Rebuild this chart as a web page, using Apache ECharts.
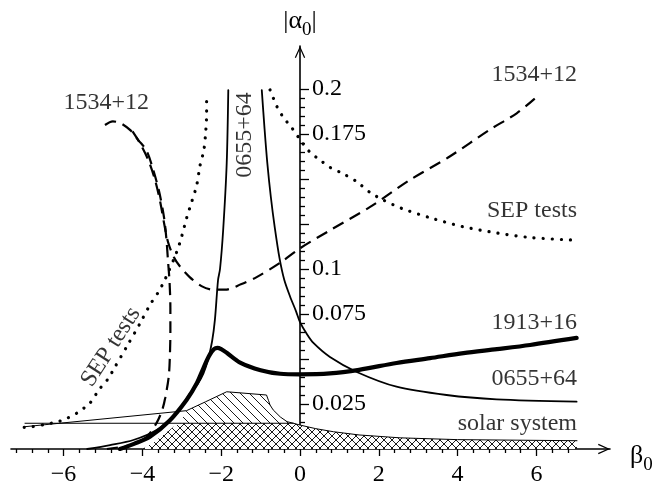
<!DOCTYPE html>
<html><head><meta charset="utf-8">
<script src="https://cdn.jsdelivr.net/npm/echarts@6/dist/echarts.min.js"></script>
<style>html,body{margin:0;padding:0;background:#fff}#c{width:658px;height:482px}</style>
</head><body><div id="c"></div>
<script>
// ---------- tick values ----------
const xMajorTicks = [-6, -4, -2, 0, 2, 4, 6];
const xMinorTicks = [-7.2, -6.8, -6.4, -5.6, -5.2, -4.8, -4.4, -3.6, -3.2, -2.8, -2.4, -1.6, -1.2, -0.8, -0.4,
  0.4, 0.8, 1.2, 1.6, 2.4, 2.8, 3.2, 3.6, 4.4, 4.8, 5.2, 5.6, 6.4, 6.8];
const yMajorTicks = [0.025, 0.05, 0.075, 0.1, 0.125, 0.15, 0.175, 0.2];
const yLabelTicks = [0.025, 0.075, 0.1, 0.175, 0.2];
const yMinorTicks = [0.005, 0.01, 0.015, 0.02, 0.03, 0.035, 0.04, 0.045, 0.055, 0.06, 0.065, 0.07,
  0.08, 0.085, 0.09, 0.095, 0.105, 0.11, 0.115, 0.12, 0.13, 0.135, 0.14, 0.145, 0.155, 0.16, 0.165, 0.17,
  0.18, 0.185, 0.19, 0.195];

// ---------- curves: [beta0, |alpha0|] ----------
const sepLeft = [[-7.0,0.0120],[-6.8,0.0124],[-6.5,0.0135],[-6.3,0.0144],[-6.09,0.0155],[-5.89,0.0173],
  [-5.66,0.0200],[-5.33,0.0256],[-5.1,0.0330],[-4.87,0.0390],[-4.74,0.0439],[-4.4,0.0568],[-4.06,0.0698],
  [-3.81,0.0800],[-3.6,0.0870],[-3.43,0.0940],[-3.13,0.1094],[-3.0,0.1183],[-2.87,0.1289],[-2.75,0.1372],
  [-2.62,0.1467],[-2.54,0.1572],[-2.44,0.1661],[-2.39,0.1772],[-2.37,0.1867],[-2.37,0.1970]];
const sepRight = [[-0.76,0.1995],[-0.59,0.1905],[-0.43,0.1845],[-0.21,0.1785],[0.08,0.1695],[0.25,0.1650],
  [0.51,0.1605],[0.76,0.1565],[1.09,0.1530],[1.44,0.1485],[1.78,0.1425],[2.1,0.1385],[2.6,0.1335],
  [3.3,0.1285],[4.14,0.1235],[5.0,0.1200],[5.84,0.1175],[7.0,0.1160]];
const psr1534A = [[-4.95,0.1800],[-4.75,0.1820],[-4.55,0.1810],[-4.3,0.1770],[-4.1,0.1715],[-3.9,0.1660],
  [-3.73,0.1555],[-3.57,0.1425],[-3.45,0.1285],[-3.39,0.1165],[-3.35,0.1045],[-3.31,0.0925],[-3.29,0.0785],
  [-3.29,0.0655],[-3.3,0.0535],[-3.33,0.0405],[-3.42,0.0285],[-3.5,0.0215],[-3.64,0.0145],[-3.9,0.0065],
  [-4.24,0.0025],[-4.9,0.0000]];
const psr1534B = [[-4.25,0.1765],[-4.05,0.1695],[-3.85,0.1605],[-3.68,0.1495],[-3.55,0.1375],[-3.45,0.1255],
  [-3.35,0.1150],[-3.2,0.1065],[-3.05,0.1015],[-2.8,0.0955],[-2.5,0.0905],[-2.2,0.0885],[-1.9,0.0885],
  [-1.5,0.0915],[-1.1,0.0955],[-0.5,0.1035],[0,0.1115],[0.76,0.1215],[1.78,0.1345],[2.79,0.1495],
  [3.8,0.1625],[4.82,0.1775],[5.5,0.1865],[6.0,0.1955]];
const psr0655Left = [[-5.4,0.0],[-4.82,0.0022],[-4.23,0.0050],[-3.64,0.0106],[-3.13,0.0198],[-2.79,0.0310],
  [-2.6,0.0360],[-2.45,0.0420],[-2.33,0.0500],[-2.23,0.0600],[-2.16,0.0717],[-2.08,0.0939],[-2.03,0.1000],
  [-1.95,0.1217],[-1.86,0.1589],[-1.82,0.1994]];
const psr0655Right = [[-0.97,0.1994],[-0.9,0.1780],[-0.83,0.1590],[-0.74,0.1400],[-0.64,0.1230],
  [-0.52,0.1060],[-0.40,0.0940],[-0.25,0.0846],[-0.1,0.0765],[0,0.0705],[0.17,0.0640],[0.34,0.0589],
  [0.76,0.0511],[1.44,0.0428],[2.45,0.0346],[3.72,0.0300],[4.99,0.0276],[7.02,0.0263]];
const psr1913 = [[-4.57,0.0],[-4.2,0.0030],[-3.81,0.0068],[-3.3,0.0160],[-2.88,0.0272],[-2.62,0.0365],
  [-2.45,0.0450],[-2.3,0.0520],[-2.18,0.0555],[-2.1,0.0562],[-2.0,0.0555],[-1.86,0.0535],[-1.52,0.0480],
  [-1.0,0.0438],[-0.5,0.0418],[0,0.0415],[0.76,0.0420],[1.5,0.0440],[2.45,0.0478],[3.3,0.0505],
  [4.15,0.0533],[5.0,0.0555],[5.84,0.0578],[7.02,0.0617]];
const solarCross = [[-4.0,0.0],[-3.7,0.0040],[-3.4,0.0090],[-3.2,0.0125],[-3.05,0.0143],[-0.17,0.0143],
  [0,0.0133],[0.4,0.0113],[0.85,0.0096],[1.5,0.0078],[2.54,0.0062],[4,0.0052],[7.03,0.0046]];
const solarHatch = [[-3.05,0.0143],[-2.88,0.0213],[-2.4,0.0262],[-1.86,0.0318],[-0.85,0.0300],[-0.8,0.0270],
  [-0.76,0.0244],[-0.68,0.0217],[-0.5,0.0178],[-0.33,0.0152],[-0.17,0.0143]];
const solarEdge = [[-6.98,0.0124],[-2.88,0.0213],[-2.4,0.0262],[-1.86,0.0318],[-0.85,0.0300],[-0.8,0.0270],
  [-0.76,0.0244],[-0.68,0.0217],[-0.5,0.0178],[-0.33,0.0152],[-0.17,0.0143],[0,0.0133],[0.4,0.0113],
  [0.85,0.0096],[1.5,0.0078],[2.54,0.0062],[4,0.0052],[7.03,0.0046]];
const solarFlat = [[-6.98,0.0143],[-0.17,0.0143]];

// ---------- annotation texts (anchored in data coordinates) ----------
const annotations = [
  { text: '1534+12', at: [-4.92, 0.1922], align: 'center', rotate: 0 },
  { text: '1534+12', at: [7.03, 0.2078], align: 'right', rotate: 0 },
  { text: '0655+64', at: [-1.40, 0.1744], align: 'center', rotate: 90 },
  { text: 'SEP tests', at: [7.03, 0.1322], align: 'right', rotate: 0 },
  { text: 'SEP tests', at: [-4.80, 0.0567], align: 'center', rotate: 57 },
  { text: '1913+16', at: [7.03, 0.0700], align: 'right', rotate: 0 },
  { text: '0655+64', at: [7.03, 0.0389], align: 'right', rotate: 0 },
  { text: 'solar system', at: [7.03, 0.0139], align: 'right', rotate: 0 }
];

const FONT = 'Liberation Serif';
const FS = 24;

function hatch(size, cross) {
  const c = document.createElement('canvas');
  c.width = size; c.height = size;
  const g = c.getContext('2d');
  if (cross) { g.fillStyle = '#fff'; g.fillRect(0, 0, size, size); }
  g.strokeStyle = '#000'; g.lineWidth = 0.9;
  g.beginPath();
  g.moveTo(-2, -2); g.lineTo(size + 2, size + 2);
  g.moveTo(-2, size - 2); g.lineTo(2, size + 2);
  g.moveTo(size - 2, -2); g.lineTo(size + 2, 2);
  if (cross) {
    g.moveTo(-2, size + 2); g.lineTo(size + 2, -2);
    g.moveTo(-2, 2); g.lineTo(2, -2);
    g.moveTo(size - 2, size + 2); g.lineTo(size + 2, size - 2);
  }
  g.stroke();
  return c;
}

const chevron = 'path://M5,0 L10,11 L8.9,11.5 L5,2.7 L1.1,11.5 L0,11 Z';
const X_MIN = -7.335, X_MAX = 7.868, Y_MAX = 0.2239;
const GRID = { left: 11, right: 48, top: 46, bottom: 33 };
const CHART_W = 658;
// place the y axis (with its labels) on beta0 = 0
const yOffset = -(CHART_W - GRID.left - GRID.right) * (0 - X_MIN) / (X_MAX - X_MIN);

const chart = echarts.init(document.getElementById('c'), null, { renderer: 'canvas' });

function line(data, width, type, extra) {
  return Object.assign({
    type: 'line', data: data, showSymbol: false, symbol: 'none', smooth: 0.3,
    xAxisIndex: 0, yAxisIndex: 0, z: 3, silent: true,
    lineStyle: { color: '#000', width: width, type: type || 'solid', cap: 'round', join: 'round' }
  }, extra || {});
}

const minus = v => (v < 0 ? '\u2212' + Math.abs(v) : String(v));

chart.setOption({
  animation: false,
  backgroundColor: '#fff',
  textStyle: { fontFamily: FONT },
  grid: Object.assign({ containLabel: false, outerBoundsMode: 'none' }, GRID),
  xAxis: [{
    type: 'value', min: X_MIN, max: X_MAX, position: 'bottom',
    splitLine: { show: false },
    axisLine: { onZero: false, lineStyle: { color: '#000', width: 1.6 },
      symbol: ['none', chevron], symbolSize: [11, 12], symbolOffset: [0, -6] },
    axisTick: { customValues: xMajorTicks, length: 7, lineStyle: { color: '#000', width: 1.3 } },
    axisLabel: { customValues: xMajorTicks, formatter: minus, color: '#000', fontFamily: FONT, fontSize: FS, margin: 14 },
    name: '{b|β}{s|0}', nameLocation: 'end', nameGap: 20,
    nameTextStyle: { color: '#000', fontFamily: FONT, padding: [20, 0, 0, 0],
      rich: { b: { fontFamily: FONT, fontSize: 26, lineHeight: 32, verticalAlign: 'top', color: '#000' },
              s: { fontFamily: FONT, fontSize: 19, lineHeight: 18, verticalAlign: 'bottom', color: '#000' } } }
  }, {
    type: 'value', min: X_MIN, max: X_MAX, position: 'bottom',
    splitLine: { show: false },
    axisLine: { show: false, onZero: false },
    axisTick: { customValues: xMinorTicks, length: 4, lineStyle: { color: '#000', width: 1.3 } },
    axisLabel: { show: false }
  }],
  yAxis: [{
    type: 'value', min: 0, max: Y_MAX, position: 'left', offset: yOffset,
    splitLine: { show: false },
    axisLine: { onZero: false, lineStyle: { color: '#000', width: 1.6 },
      symbol: ['none', chevron], symbolSize: [11, 12], symbolOffset: [0, -6] },
    axisTick: { inside: true, customValues: yMajorTicks, length: 9, lineStyle: { color: '#000', width: 1.3 } },
    axisLabel: { inside: true, customValues: yLabelTicks, color: '#000', fontFamily: FONT, fontSize: FS, margin: 12,
      padding: [0, 0, 6, 0] },
    name: '{p||}{a|α}{s|0}{p||}', nameLocation: 'end', nameGap: 6,
    nameTextStyle: { color: '#000', fontFamily: FONT, align: 'center',
      rich: { p: { fontFamily: FONT, fontSize: 26, lineHeight: 32, verticalAlign: 'top', color: '#000' },
              a: { fontFamily: FONT, fontSize: 26, lineHeight: 32, verticalAlign: 'top', color: '#000' },
              s: { fontFamily: FONT, fontSize: 19, lineHeight: 18, verticalAlign: 'bottom', color: '#000' } } }
  }, {
    type: 'value', min: 0, max: Y_MAX, position: 'left', offset: yOffset,
    splitLine: { show: false },
    axisLine: { show: false, onZero: false },
    axisTick: { inside: true, customValues: yMinorTicks, length: 5, lineStyle: { color: '#000', width: 1.3 } },
    axisLabel: { show: false }
  }],
  series: [
    line(solarHatch, 0, 'solid', { z: 1, smooth: false, lineStyle: { width: 0, opacity: 0 },
      areaStyle: { color: { image: hatch(9, false), repeat: 'repeat' }, opacity: 1 } }),
    line(solarCross, 0, 'solid', { z: 2, smooth: false, lineStyle: { width: 0, opacity: 0 },
      areaStyle: { color: { image: hatch(8, true), repeat: 'repeat' }, opacity: 1 } }),
    line(solarEdge, 1, 'solid', { smooth: false }),
    line(solarFlat, 1, 'solid', { smooth: false }),
    line(sepLeft, 3.2, [0.1, 9]),
    line(sepRight, 3.2, [0.1, 9]),
    line(psr1534A, 2.2, [12, 7], { lineStyle: { color: '#000', width: 2.2, type: [12, 7], cap: 'butt' } }),
    line(psr1534B, 2.2, [12, 7], { lineStyle: { color: '#000', width: 2.2, type: [12, 7], cap: 'butt' } }),
    line(psr0655Left, 1.8),
    line(psr0655Right, 1.8),
    line(psr1913, 4.2),
    {
      type: 'scatter', symbolSize: 0, silent: true, z: 5,
      data: annotations.map(a => ({
        value: a.at,
        label: { show: true, position: 'inside', formatter: a.text, align: a.align, verticalAlign: 'middle',
          rotate: a.rotate, color: '#000', fontFamily: FONT, fontSize: FS }
      }))
    }
  ]
});
</script>
</body></html>
